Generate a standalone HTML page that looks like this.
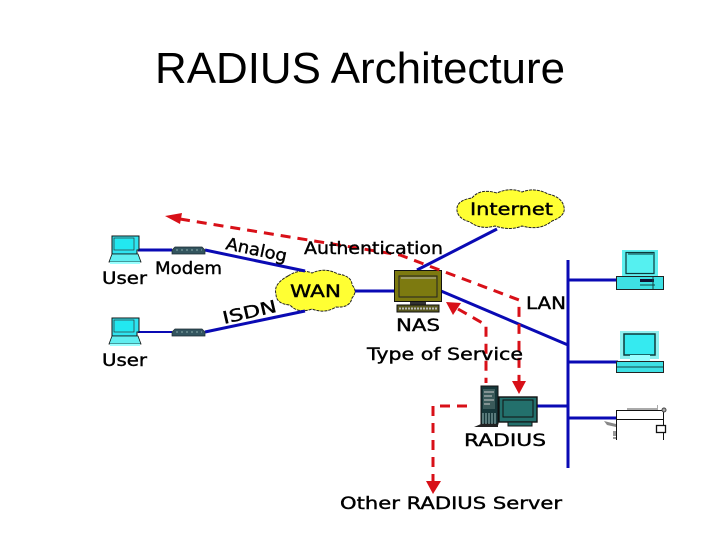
<!DOCTYPE html>
<html><head><meta charset="utf-8"><style>
html,body{margin:0;padding:0;background:#fff;width:720px;height:540px;overflow:hidden}
svg{display:block}
.t{font-family:"DejaVu Sans",sans-serif;font-size:17px;font-weight:400;fill:#000;stroke:#000;stroke-width:.4}
</style></head><body>
<svg width="720" height="540" viewBox="0 0 720 540" xmlns="http://www.w3.org/2000/svg">
<text x="155" y="83" font-family="Liberation Sans,sans-serif" font-size="44" textLength="410" lengthAdjust="spacingAndGlyphs" fill="#000">RADIUS Architecture</text>

<!-- clouds -->
<path d="M288 276 Q300 268 312 273 Q325 267 338 274 Q352 276 352 285 Q358 291 352 298 Q350 308 336 307 Q325 314 312 309 Q298 314 290 305 Q276 304 276 294 Q273 284 288 276Z" fill="#ffff33" stroke="#222" stroke-width="1" stroke-dasharray="3 1"/>
<path d="M472 198 Q480 188 497 193 Q510 187 522 192 Q535 187 548 194 Q562 197 564 207 Q566 216 552 221 Q540 231 522 226 Q510 231 495 226 Q480 230 470 222 Q456 218 457 208 Q458 200 472 198Z" fill="#ffff33" stroke="#222" stroke-width="1" stroke-dasharray="3 1"/>

<!-- blue lines -->
<g stroke="#0a0ab4" stroke-width="3" fill="none">
<path d="M138 250H172"/><path d="M205 250L305 271"/>
<path d="M138 332H172" stroke-width="2"/><path d="M205 332L305 311"/>
<path d="M355 291H395"/><path d="M417 270L497 229"/><path d="M441 291L568 345"/>
<path d="M568 260V468"/>
<path d="M568 280H618"/><path d="M568 362H618"/><path d="M568 418H616"/><path d="M537 406H568"/>
</g>

<!-- laptops -->
<g>
<path d="M112 236H139V250H137V254H112Z" fill="#2fe4f0" stroke="#111"/>
<rect x="114" y="238" width="20" height="12" fill="#22e8f0" stroke="#333" stroke-width=".7"/>
<path d="M112 254H138L141 262H109Z" fill="#60eef0" stroke="#111" stroke-width=".8"/>
<rect x="110" y="262" width="30" height="2" fill="#9ff"/>
</g>
<g transform="translate(0,82)">
<path d="M112 236H139V250H137V254H112Z" fill="#2fe4f0" stroke="#111"/>
<rect x="114" y="238" width="20" height="12" fill="#22e8f0" stroke="#333" stroke-width=".7"/>
<path d="M112 254H138L141 262H109Z" fill="#60eef0" stroke="#111" stroke-width=".8"/>
<rect x="110" y="262" width="30" height="2" fill="#9ff"/>
</g>

<!-- modems -->
<g fill="#33555f" stroke="#1a2a30" stroke-width=".7">
<path d="M172 250L175 247H202L205 250V254H172Z"/>
<path d="M172 332L175 329H202L205 332V336H172Z"/>
</g>
<g stroke="#8aa" stroke-width="1" stroke-dasharray="2 3"><path d="M176 250H202"/><path d="M176 332H202"/></g>

<!-- NAS -->
<rect x="394.500" y="270.500" width="47" height="31" fill="#7d7a10" stroke="#111"/>
<path d="M399 276H437V297H399Z" fill="#7d7a10" stroke="#222"/>
<path d="M401 278H436" stroke="#bbb" fill="none"/>
<rect x="410" y="302" width="16" height="3" fill="#333"/>
<rect x="397" y="305" width="42" height="7" fill="#5a5a20" stroke="#111"/>
<path d="M399 308.500H437" stroke="#bbb" stroke-width="2" stroke-dasharray="2 1"/>

<!-- RADIUS server -->
<rect x="481" y="386" width="17" height="38" fill="#16373a" stroke="#111"/>
<rect x="483" y="389" width="12" height="20" fill="#3a5a5a"/>
<path d="M484 392H494M484 396H492M484 400H494M484 404H490" stroke="#ccc" stroke-width="1"/>
<path d="M483 413V424M486 413V424M489 413V424M492 413V424M495 413V424" stroke="#9bb" stroke-width="1"/>
<path d="M474 427L481 424H498V427Z" fill="#222"/>
<rect x="499" y="397" width="38" height="25" fill="#23706c" stroke="#111" stroke-width="1.400"/>
<rect x="503" y="400" width="30" height="17" fill="#23706c" stroke="#111"/>
<rect x="508" y="422" width="24" height="4" fill="#23706c" stroke="#111"/>

<!-- right PC 1 -->
<rect x="622" y="250" width="36" height="26" fill="#5ff0f0"/>
<rect x="626" y="252.500" width="28" height="21" fill="#55f0f0" stroke="#0c3a3c" stroke-width="1.200"/>
<path d="M628 254H653" stroke="#0c3a3c" fill="none"/>
<rect x="616.500" y="276.500" width="47" height="13" fill="#3ee0e4" stroke="#222"/>
<rect x="640" y="279" width="14" height="3" fill="#113"/>
<path d="M640 285H655M653 277V289" stroke="#144"/>
<!-- right PC 2 -->
<rect x="620" y="331" width="39" height="28" fill="#8ff0f0"/>
<rect x="624" y="334" width="31" height="21" fill="#35eaf0" stroke="#0c3a3c" stroke-width="1.500"/>
<rect x="630" y="355" width="20" height="6" fill="#9ff"/>
<rect x="616.500" y="361.500" width="47" height="11" fill="#3ee0e4" stroke="#222"/>
<path d="M617 367H663" stroke="#144"/>

<!-- printer -->
<path d="M616.500 440V410.500H663.500V440" fill="#fff" stroke="#111"/>
<path d="M616.500 419.500H663.500" stroke="#111"/>
<path d="M627 410V408H657V405H658V410Z" fill="#aaa"/>
<circle cx="664" cy="410" r="2" fill="#aaa" stroke="#444"/>
<rect x="656.500" y="425.500" width="9" height="7" fill="#fff" stroke="#111" stroke-width="1.300"/>
<path d="M604 421L616 424V427L607 425Z" fill="#888"/>
<path d="M613 431H616V436H613ZM613 437H616V439H613Z" fill="#999"/>

<!-- red dashed -->
<g stroke="#d81018" stroke-width="3" fill="none" stroke-dasharray="10 7">
<path d="M180 219L400 255L519 300V381"/>
<path d="M458 309L486 325V383"/>
<path d="M467 406H433V481"/>
</g>
<g fill="#d81018">
<path d="M165 216L182 213L180 224Z"/>
<path d="M519 394L512 381H526Z"/>
<path d="M446 302L461 303L453 315Z"/>
<path d="M433 494L426 481H441Z"/>
</g>

<!-- labels -->
<text class="t" x="102" y="284" textLength="45" lengthAdjust="spacingAndGlyphs">User</text>
<text class="t" x="102" y="366" textLength="45" lengthAdjust="spacingAndGlyphs">User</text>
<text class="t" x="155" y="274" textLength="67" lengthAdjust="spacingAndGlyphs">Modem</text>
<text class="t" transform="translate(225 249) rotate(12)" textLength="62" lengthAdjust="spacingAndGlyphs">Analog</text>
<text class="t" transform="translate(224 324) rotate(-13)" textLength="55" lengthAdjust="spacingAndGlyphs">ISDN</text>
<text class="t" x="304" y="254" textLength="139" lengthAdjust="spacingAndGlyphs">Authentication</text>
<text class="t" x="290" y="297" textLength="51" lengthAdjust="spacingAndGlyphs">WAN</text>
<text class="t" x="470" y="215" textLength="83" lengthAdjust="spacingAndGlyphs">Internet</text>
<text class="t" x="396" y="331" textLength="44" lengthAdjust="spacingAndGlyphs">NAS</text>
<text class="t" x="526" y="309" textLength="40" lengthAdjust="spacingAndGlyphs">LAN</text>
<text class="t" x="367" y="360" textLength="156" lengthAdjust="spacingAndGlyphs">Type of Service</text>
<text class="t" x="464" y="446" textLength="82" lengthAdjust="spacingAndGlyphs">RADIUS</text>
<text class="t" x="340" y="509" textLength="222" lengthAdjust="spacingAndGlyphs">Other RADIUS Server</text>
</svg>
</body></html>
